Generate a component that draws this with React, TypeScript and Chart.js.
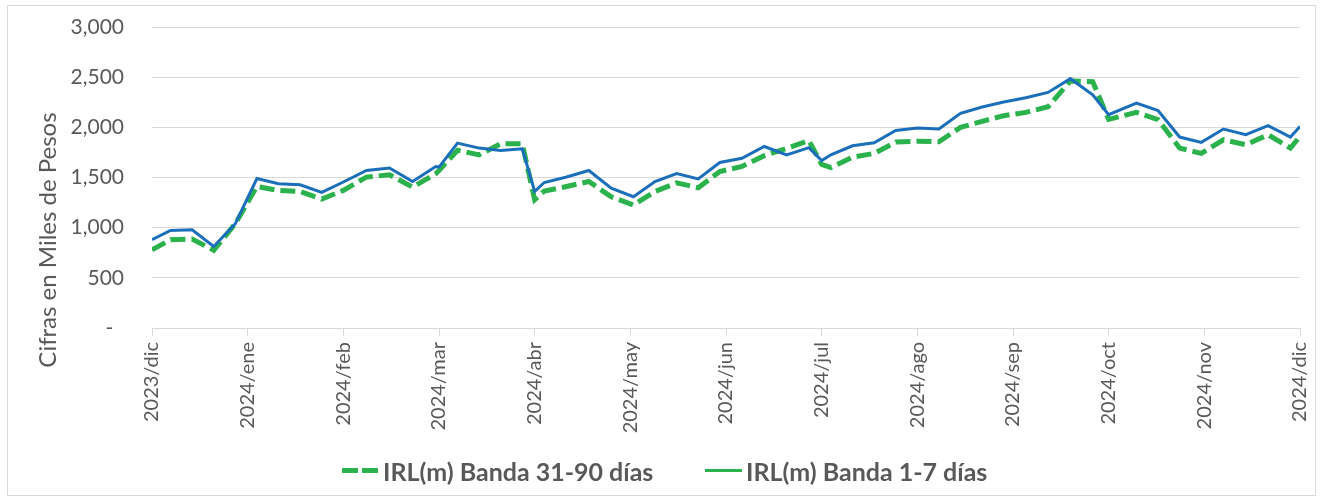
import React, { useEffect, useRef } from 'react';
import { Chart, registerables } from 'chart.js';

Chart.register(...registerables);

// ---- Data ----
const monthLabels = [
  '2023/dic', '2024/ene', '2024/feb', '2024/mar', '2024/abr', '2024/may', '2024/jun',
  '2024/jul', '2024/ago', '2024/sep', '2024/oct', '2024/nov', '2024/dic',
];

const yTicks = [0, 500, 1000, 1500, 2000, 2500, 3000];

const dates = [
  '2023-12-01', '2023-12-07', '2023-12-14', '2023-12-21', '2023-12-28',
  '2024-01-04', '2024-01-11', '2024-01-18', '2024-01-25',
  '2024-02-01', '2024-02-08', '2024-02-15', '2024-02-22', '2024-02-29',
  '2024-03-01', '2024-03-07', '2024-03-14', '2024-03-21', '2024-03-28',
  '2024-04-01', '2024-04-04', '2024-04-11', '2024-04-18', '2024-04-25',
  '2024-05-02', '2024-05-09', '2024-05-16', '2024-05-23', '2024-05-30',
  '2024-06-06', '2024-06-13', '2024-06-20', '2024-06-27',
  '2024-07-01', '2024-07-04', '2024-07-11', '2024-07-18', '2024-07-25',
  '2024-08-01', '2024-08-08', '2024-08-15', '2024-08-22', '2024-08-29',
  '2024-09-05', '2024-09-12', '2024-09-19', '2024-09-26',
  '2024-10-01', '2024-10-10', '2024-10-17', '2024-10-24', '2024-10-31',
  '2024-11-07', '2024-11-14', '2024-11-21', '2024-11-28', '2024-12-01',
];

const irl31a90 = [
  780, 880, 887, 775, 1040,
  1410, 1371, 1361, 1285,
  1371, 1504, 1527, 1404, 1537,
  1570, 1772, 1726, 1836, 1836,
  1278, 1365, 1410, 1460, 1308,
  1225, 1361, 1446, 1398, 1560,
  1610, 1718, 1790, 1868,
  1630, 1598, 1702, 1740, 1853,
  1862, 1856, 2000, 2060, 2116,
  2149, 2205, 2462, 2455,
  2080, 2149, 2076, 1793, 1740,
  1876, 1826, 1926, 1793, 1909,
];

const irl1a7 = [
  880, 972, 979, 813, 1039,
  1490, 1437, 1428, 1351,
  1455, 1570, 1594, 1460, 1610,
  1604, 1843, 1793, 1769, 1786,
  1361, 1450, 1505, 1570, 1394,
  1308, 1460, 1540, 1486, 1650,
  1692, 1809, 1725, 1798,
  1668, 1726, 1816, 1846, 1969,
  1993, 1983, 2139, 2202, 2252,
  2295, 2348, 2485, 2325,
  2126, 2242, 2168, 1903, 1850,
  1983, 1926, 2016, 1903, 2009,
];

const seriesLabels = ['IRL(m) Banda 31-90 días', 'IRL(m) Banda 1-7 días'];
const yTitle = 'Cifras en Miles de Pesos';

// ---- Styles ----
const GREEN = '#2BB24C';
const BLUE = '#1B6FBA';
const TEXT = '#595959';
const GRID = '#D9D9D9';
const FONT = 'Lato, "Open Sans", sans-serif';

// position of a date on the month axis (0 = 2023/dic, 12 = 2024/dic)
function monthPosition(d: string): number {
  const [y, m, day] = d.split('-').map(Number);
  const idx = (y - 2023) * 12 + (m - 1) - 11;
  const dim = new Date(y, m, 0).getDate();
  return idx + (day - 1) / dim;
}

export default function App() {
  const canvasRef = useRef<HTMLCanvasElement | null>(null);

  useEffect(() => {
    if (!canvasRef.current) return;
    const chart = new Chart(canvasRef.current, {
      type: 'line',
      data: {
        datasets: [
          {
            label: seriesLabels[0],
            data: dates.map((d, i) => ({ x: monthPosition(d), y: irl31a90[i] })),
            borderColor: GREEN,
            backgroundColor: GREEN,
            borderWidth: 5,
            borderDash: [15, 6],
            pointRadius: 0,
            tension: 0,
            order: 1,
          },
          {
            label: seriesLabels[1],
            data: dates.map((d, i) => ({ x: monthPosition(d), y: irl1a7[i] })),
            borderColor: BLUE,
            backgroundColor: BLUE,
            borderWidth: 3,
            pointRadius: 0,
            tension: 0,
            order: 0,
          },
        ],
      },
      options: {
        animation: false,
        responsive: false,
        layout: { padding: { left: 0, top: 27, right: 23, bottom: 0 } },
        plugins: {
          legend: { display: false },
          tooltip: { enabled: false },
        },
        scales: {
          x: {
            type: 'linear',
            min: 0,
            max: monthLabels.length - 1,
            afterBuildTicks: (s: any) => {
              s.ticks = monthLabels.map((_, i) => ({ value: i }));
            },
            afterFit: (s: any) => {
              s.height = 174;
              s.paddingLeft = 0;
              s.paddingRight = 0;
            },
            ticks: {
              autoSkip: false,
              minRotation: 90,
              maxRotation: 90,
              padding: 6,
              color: TEXT,
              font: { family: FONT, size: 20 },
              callback: (v: any) => monthLabels[Math.round(Number(v))],
            },
            grid: { drawOnChartArea: false, drawTicks: true, tickLength: 8, color: GRID },
            border: { display: true, color: GRID },
          },
          y: {
            min: 0,
            max: 3000,
            afterBuildTicks: (s: any) => {
              s.ticks = yTicks.map((v) => ({ value: v }));
            },
            afterFit: (s: any) => {
              s.width = 152;
              s.paddingTop = 0;
              s.paddingBottom = 0;
            },
            ticks: {
              padding: 28,
              color: TEXT,
              font: { family: FONT, size: 21 },
              callback: (v: any) => (Number(v) === 0 ? '-  ' : Number(v).toLocaleString('en-US')),
            },
            grid: { color: GRID, drawTicks: false },
            border: { display: false },
            title: { display: false },
          },
        },
      },
    });
    return () => chart.destroy();
  }, []);

  const legendText: React.CSSProperties = {
    position: 'absolute',
    top: 471 - 15,
    height: 30,
    lineHeight: '30px',
    fontFamily: FONT,
    fontWeight: 700,
    fontSize: 25,
    color: TEXT,
    whiteSpace: 'nowrap',
  };

  return (
    <div style={{ position: 'fixed', left: 0, top: 0, width: 1323, height: 502, background: '#fff' }}>
      <div
        style={{
          position: 'absolute', left: 7, top: 5, width: 1309, height: 491,
          border: `1px solid ${GRID}`, boxSizing: 'border-box',
        }}
      />
      <canvas ref={canvasRef} width={1323} height={502} style={{ position: 'absolute', left: 0, top: 0 }} />
      {/* y axis title */}
      <div
        style={{
          position: 'absolute', left: 47 - 160, top: 240 - 15, width: 320, height: 30,
          lineHeight: '30px', textAlign: 'center', transform: 'rotate(-90deg)',
          fontFamily: FONT, fontSize: 24, color: TEXT, whiteSpace: 'nowrap',
        }}
      >
        {yTitle}
      </div>
      {/* legend */}
      <div style={{ position: 'absolute', left: 342, top: 468, width: 16, height: 5, background: GREEN }} />
      <div style={{ position: 'absolute', left: 362, top: 468, width: 16, height: 5, background: GREEN }} />
      <span style={{ ...legendText, left: 383 }}>{seriesLabels[0]}</span>
      <div style={{ position: 'absolute', left: 705, top: 469, width: 37, height: 3, background: GREEN }} />
      <span style={{ ...legendText, left: 746 }}>{seriesLabels[1]}</span>
    </div>
  );
}
